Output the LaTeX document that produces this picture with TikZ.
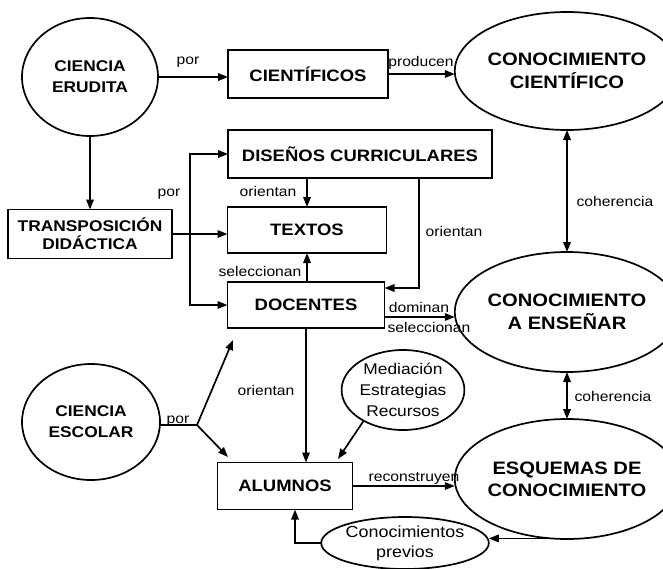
\documentclass[tikz,border=0pt]{standalone}
\usepackage{fontspec}
\setmainfont{Liberation Sans}
\newfontfamily\dfont[FakeStretch=1.12]{Liberation Sans}
\usetikzlibrary{shapes.geometric,arrows.meta,calc}
\begin{document}
\begin{tikzpicture}[x=1pt,y=-1pt,
  every node/.style={inner sep=0pt, outer sep=0pt},
  box/.style={draw, line width=1.7pt, rectangle, align=center,
    font=\dfont\bfseries\fontsize{16.5}{18.5}\selectfont},
  bigell/.style={draw, line width=1.7pt, ellipse, align=center,
    font=\dfont\bfseries\fontsize{18}{23}\selectfont},
  smallell/.style={draw, line width=1.7pt, ellipse, align=center,
    font=\dfont\bfseries\fontsize{15.5}{21}\selectfont},
  plainell/.style={draw, line width=1.7pt, ellipse, align=center,
    font=\dfont\fontsize{15.5}{21}\selectfont},
  lbl/.style={font=\dfont\fontsize{14}{15}\selectfont, anchor=base},
  tip/.style={-{Triangle[length=10pt,width=7.5pt]}},
  arr/.style={line width=1.7pt, tip},
  dbl/.style={line width=1.7pt, {Triangle[length=10pt,width=7.5pt]}-{Triangle[length=10pt,width=7.5pt]}},
  ln/.style={line width=1.7pt}
]
\fill[white] (0,0) rectangle (663,568);
\useasboundingbox (0,0) rectangle (663,568);

% concept nodes
\node[smallell, minimum width=136, minimum height=118] (erud) at (90,77) {CIENCIA\\ERUDITA};
\node[box, minimum width=160, minimum height=48] (cient) at (308,74) {CIENTÍFICOS};
\node[bigell, minimum width=190, minimum height=118] (cc) at (567,71) {CONOCIMIENTO\\CIENTÍFICO};
\node[box, minimum width=264, minimum height=48] (dis) at (360,154) {DISEÑOS CURRICULARES};
\node[box, minimum width=164, minimum height=49, font=\dfont\bfseries\fontsize{15.5}{18}\selectfont] (trans) at (90,234) {TRANSPOSICIÓN\\DIDÁCTICA};
\node[box, minimum width=159, minimum height=46] (tex) at (307,230) {TEXTOS};
\node[box, minimum width=157, minimum height=46] (doc) at (306,305) {DOCENTES};
\node[bigell, minimum width=190, minimum height=120] (cae) at (567,312) {CONOCIMIENTO\\A ENSEÑAR};
\node[plainell, minimum width=112, minimum height=80] (med) at (403,390) {Mediación\\Estrategias\\Recursos};
\node[smallell, minimum width=138, minimum height=116] (ce) at (91,422) {CIENCIA\\ESCOLAR};
\node[box, minimum width=135, minimum height=47] (alu) at (285,486) {ALUMNOS};
\node[bigell, minimum width=190, minimum height=120, font=\dfont\bfseries\fontsize{18}{22}\selectfont] (esq) at (567,479) {ESQUEMAS DE\\CONOCIMIENTO};
\node[plainell, minimum width=145, minimum height=52, font=\dfont\fontsize{16}{20}\selectfont] (prev) at (405,543) {Conocimientos\\previos};

% junction points
\coordinate (bx) at (190,234);
\coordinate (dr) at (419,178);
\coordinate (dl) at ($(doc.east)+(0,12)$);
\coordinate (ma) at (338,459);
\coordinate (cj) at (197,425);
\coordinate (cu) at (233,340);
\coordinate (cd) at (228,457);
\coordinate (ep) at (esq.-105);

% connectors
\draw[arr] (erud.east) -- (erud.east -| cient.west);
\draw[arr] (cient.east) -- (cient.east -| cc.west);
\draw[dbl] (cc.south) -- (cae.north);
\draw[arr] (erud.south) -- (trans.north);
\draw[arr] (trans.east) -- (trans.east -| tex.west);
\draw[arr] (bx) |- (dis.west);
\draw[arr] (bx) |- (doc.west);
\draw[arr] (dis.south -| tex.north) -- (tex.north);
\draw[arr] (doc.north -| tex.south) -- (tex.south);
\draw[arr] (dr) |- ($(doc.east)+(0,-17)$);
\draw[arr] (dl) -- (dl -| cae.west);
\draw[dbl] (cae.south) -- (esq.north);
\draw[arr] (doc.south) -- (doc.south |- alu.north);
\draw[arr] (med.218) -- (ma);
\draw[ln] (cj -| ce.east) -- (cj);
\draw[arr] (cj) -- (cu);
\draw[arr] (cj) -- (cd);
\draw[arr] (alu.east) -- (alu.east -| esq.west);
\draw[arr] (ep) -- (ep -| prev.east);
\draw[arr] (prev.west) -| ($(alu.south)+(10,0)$);

% connector labels
\node[lbl] (l1) at (188,64) {por};
\node[lbl] (l2) at (421,66) {producen};
\node[lbl] (l3) at (615,206) {coherencia};
\node[lbl] (l4) at (169,196) {por};
\node[lbl] (l5) at (268,196) {orientan};
\node[lbl] (l6) at (260,276) {seleccionan};
\node[lbl] (l7) at (454,236) {orientan};
\node[lbl] (l8) at (419,312) {dominan};
\node[lbl] (l9) at (429,332) {seleccionan};
\node[lbl] (l10) at (266,395) {orientan};
\node[lbl] (l11) at (178,423) {por};
\node[lbl] (l12) at (613,401) {coherencia};
\node[lbl] (l13) at (414,481) {reconstruyen};
\end{tikzpicture}
\end{document}
